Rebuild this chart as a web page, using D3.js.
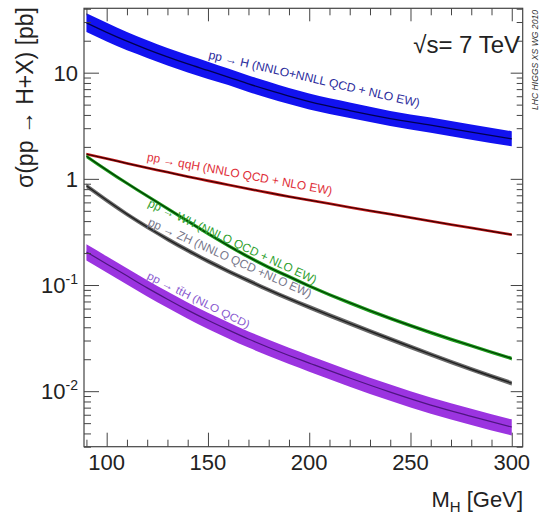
<!DOCTYPE html>
<html><head><meta charset="utf-8">
<script src="https://cdn.jsdelivr.net/npm/d3@7"></script>
<style>body{margin:0;background:#fff}svg{display:block;font-family:"Liberation Sans",Arial,Helvetica,sans-serif}</style>
</head><body><svg id="c" width="541" height="515"></svg>
<script>
// ---- data ----
const masses = [90,100,110,120,130,140,150,160,170,180,190,200,220,240,260,280,300];
const ggfXS = [29.5,24.0,19.8,16.6,14.1,12.1,10.5,9.1,7.85,6.85,6.02,5.35,4.4,3.7,3.2,2.75,2.38];
const ggfUp = [0.23,0.23,0.22,0.22,0.21,0.21,0.21,0.20,0.20,0.20,0.19,0.19,0.19,0.18,0.18,0.18,0.18];
const ggfDn = [0.18,0.18,0.18,0.17,0.17,0.17,0.17,0.16,0.16,0.16,0.16,0.16,0.15,0.15,0.15,0.15,0.15];
const vbfXS = [1.71,1.55,1.40,1.27,1.155,1.05,0.96,0.88,0.805,0.74,0.68,0.63,0.54,0.465,0.40,0.345,0.298];
const vbfUp = [0.03,0.03,0.03,0.03,0.03,0.03,0.03,0.03,0.03,0.03,0.03,0.03,0.03,0.03,0.03,0.03,0.03];
const vbfDn = [0.03,0.03,0.03,0.03,0.03,0.03,0.03,0.03,0.03,0.03,0.03,0.03,0.03,0.03,0.03,0.03,0.03];
const whXS = [1.63,1.21,0.91,0.69,0.525,0.40,0.305,0.235,0.184,0.147,0.120,0.098,0.068,0.0485,0.0357,0.0268,0.0203];
const whUp = [0.04,0.04,0.04,0.04,0.04,0.04,0.04,0.04,0.04,0.04,0.04,0.04,0.04,0.04,0.04,0.04,0.04];
const whDn = [0.04,0.04,0.04,0.04,0.04,0.04,0.04,0.04,0.04,0.04,0.04,0.04,0.04,0.04,0.04,0.04,0.04];
const zhXS = [0.86,0.628,0.465,0.352,0.271,0.212,0.168,0.135,0.110,0.090,0.0744,0.062,0.0436,0.031,0.0222,0.0161,0.0119];
const zhUp = [0.05,0.05,0.05,0.05,0.05,0.05,0.05,0.05,0.05,0.05,0.05,0.05,0.05,0.05,0.05,0.05,0.05];
const zhDn = [0.05,0.05,0.05,0.05,0.05,0.05,0.05,0.05,0.05,0.05,0.05,0.05,0.05,0.05,0.05,0.05,0.05];
const tthXS = [0.205,0.158,0.122,0.094,0.0735,0.058,0.0465,0.0378,0.031,0.0258,0.0217,0.0184,0.0133,0.0098,0.0074,0.0058,0.0046];
const tthUp = [0.18,0.18,0.18,0.18,0.18,0.18,0.18,0.18,0.18,0.18,0.18,0.18,0.18,0.18,0.18,0.18,0.18];
const tthDn = [0.17,0.17,0.17,0.17,0.17,0.17,0.17,0.17,0.17,0.17,0.17,0.17,0.17,0.17,0.17,0.17,0.17];
const processLabels = ["pp \u2192 H (NNLO+NNLL QCD + NLO EW)","pp \u2192 qqH (NNLO QCD + NLO EW)","pp \u2192 WH (NNLO QCD + NLO EW)","pp \u2192 ZH (NNLO QCD +NLO EW)","pp \u2192 tt\u0304H (NLO QCD)"];
const xMajorTicks = [100,150,200,250,300];
const yMajorTicks = [10,1,0.1,0.01];
const yTickBase = ["10","1","10","10"];
const yTickExp = ["","","-1","-2"];

// ---- layout ----
const svg = d3.select("#c");
svg.append("rect").attr("width",541).attr("height",515).attr("fill","#fff");
const L=84, R=522.7, T=8.3, B=446.7;
const x = d3.scaleLinear().domain([88.8,305.4]).range([L,R]);
const y = d3.scaleLog().domain([0.003,40.4]).range([B,T]);

svg.append("defs").append("clipPath").attr("id","pc").append("rect")
  .attr("x",L).attr("y",T).attr("width",R-L).attr("height",B-T);

const procs = [
  {c:ggfXS,u:ggfUp,d:ggfDn,fill:"#1212f0",line:"#000050",lw:1.3,lab:"#2b2b9c",fs:12,pos:[150,-12,254,-16]},
  {c:vbfXS,u:vbfUp,d:vbfDn,fill:"#c81e1e",line:"#3a0000",lw:1.2,lab:"#e0303a",fs:12,pos:[119.6,-7,211,-9]},
  {c:whXS,u:whUp,d:whDn,fill:"#1e9e1e",line:"#003a00",lw:1.2,lab:"#2f9f2f",fs:12,pos:[120,10,202.5,-4]},
  {c:zhXS,u:zhUp,d:zhDn,fill:"#6a6a6a",line:"#202020",lw:1.4,lab:"#76768a",fs:12,pos:[120,-2,200,-9]},
  {c:tthXS,u:tthUp,d:tthDn,fill:"#9b34e0",line:"#4e1580",lw:1.2,lab:"#8a5ad0",fs:11,pos:[119.5,-9,169.5,-10]}
];

const g = svg.append("g").attr("clip-path","url(#pc)");
procs.forEach(p=>{
  const pts = masses.map((mh,i)=>({mh, c:p.c[i], hi:p.c[i]*(1+p.u[i]), lo:p.c[i]*(1-p.d[i])}));
  g.append("path").datum(pts)
    .attr("d", d3.area().x(d=>x(d.mh)).y0(d=>y(d.lo)).y1(d=>y(d.hi)).curve(d3.curveMonotoneX))
    .attr("fill",p.fill);
  g.append("path").datum(pts)
    .attr("d", d3.line().x(d=>x(d.mh)).y(d=>y(d.c)).curve(d3.curveMonotoneX))
    .attr("fill","none").attr("stroke",p.line).attr("stroke-width",p.lw);
});

function valAt(arr, mh){
  let i = d3.bisectRight(masses, mh) - 1;
  i = Math.max(0, Math.min(masses.length-2, i));
  const t = (mh - masses[i])/(masses[i+1]-masses[i]);
  return Math.exp(Math.log(arr[i])*(1-t) + Math.log(arr[i+1])*t);
}

// process labels along curves
procs.forEach((p,k)=>{
  const [m1,o1,m2,o2] = p.pos;
  const x1 = x(m1), y1 = y(valAt(p.c,m1))+o1;
  const x2 = x(m2), y2 = y(valAt(p.c,m2))+o2;
  const ang = Math.atan2(y2-y1, x2-x1)*180/Math.PI;
  const len = Math.hypot(x2-x1, y2-y1);
  svg.append("text").attr("transform",`translate(${x1},${y1}) rotate(${ang})`)
    .attr("font-size",p.fs).attr("fill",p.lab)
    .attr("textLength",len).attr("lengthAdjust","spacingAndGlyphs")
    .text(processLabels[k]);
});

// ---- axes / frame ----
const xMinor = d3.range(90,301,10).filter(v=>!xMajorTicks.includes(v));
const yMinor = [];
[-3,-2,-1,0,1].forEach(e=>{ for(let k=2;k<=9;k++){ const v=k*Math.pow(10,e); if(v>=0.003&&v<=40.4) yMinor.push(v);} });
const axStyle = sel=>{ sel.select(".domain").remove(); sel.selectAll("line").attr("stroke","#444").attr("stroke-width",1); };
svg.append("g").attr("transform",`translate(0,${B})`).call(d3.axisBottom(x).tickValues(xMajorTicks).tickSize(-14).tickFormat("")).call(axStyle);
svg.append("g").attr("transform",`translate(0,${B})`).call(d3.axisBottom(x).tickValues(xMinor).tickSize(-7).tickFormat("")).call(axStyle);
svg.append("g").attr("transform",`translate(0,${T})`).call(d3.axisTop(x).tickValues(xMajorTicks).tickSize(-13).tickFormat("")).call(axStyle);
svg.append("g").attr("transform",`translate(0,${T})`).call(d3.axisTop(x).tickValues(xMinor).tickSize(-7).tickFormat("")).call(axStyle);
svg.append("g").attr("transform",`translate(${L},0)`).call(d3.axisLeft(y).tickValues(yMajorTicks).tickSize(-15).tickFormat("")).call(axStyle);
svg.append("g").attr("transform",`translate(${L},0)`).call(d3.axisLeft(y).tickValues(yMinor).tickSize(-7).tickFormat("")).call(axStyle);
svg.append("g").attr("transform",`translate(${R},0)`).call(d3.axisRight(y).tickValues(yMajorTicks).tickSize(-12).tickFormat("")).call(axStyle);
svg.append("g").attr("transform",`translate(${R},0)`).call(d3.axisRight(y).tickValues(yMinor).tickSize(-6).tickFormat("")).call(axStyle);
svg.append("rect").attr("x",L).attr("y",T).attr("width",R-L).attr("height",B-T)
  .attr("fill","none").attr("stroke","#444").attr("stroke-width",1.2);

// tick labels
xMajorTicks.forEach(v=>{
  svg.append("text").attr("x",x(v)).attr("y",470).attr("text-anchor","middle")
    .attr("font-size",22).attr("fill","#222").text(v);
});
yMajorTicks.forEach((v,i)=>{
  const t = svg.append("text").attr("x",78).attr("y",y(v)+8).attr("text-anchor","end")
    .attr("font-size",22).attr("fill","#222");
  t.append("tspan").text(yTickBase[i]);
  if(yTickExp[i]) t.append("tspan").attr("font-size",14).attr("dy",-9).text(yTickExp[i]);
});

// axis titles
const xt = svg.append("text").attr("x",523).attr("y",507).attr("text-anchor","end")
  .attr("font-size",22).attr("fill","#222");
xt.append("tspan").text("M");
xt.append("tspan").attr("font-size",15).attr("dy",5).text("H");
xt.append("tspan").attr("dy",-5).text(" [GeV]");

svg.append("text").attr("transform","translate(33,7) rotate(-90)").attr("text-anchor","end")
  .attr("font-size",23).attr("fill","#222").text("\u03c3(pp \u2192 H+X) [pb]");

svg.append("text").attr("x",520).attr("y",53).attr("text-anchor","end")
  .attr("font-size",24).attr("fill","#222").text("\u221as= 7 TeV");

svg.append("text").attr("transform","translate(538,110) rotate(-90)")
  .attr("font-size",8.5).attr("font-style","italic").attr("fill","#333")
  .attr("textLength",100).attr("lengthAdjust","spacingAndGlyphs")
  .text("LHC HIGGS XS WG 2010");
</script></body></html>
